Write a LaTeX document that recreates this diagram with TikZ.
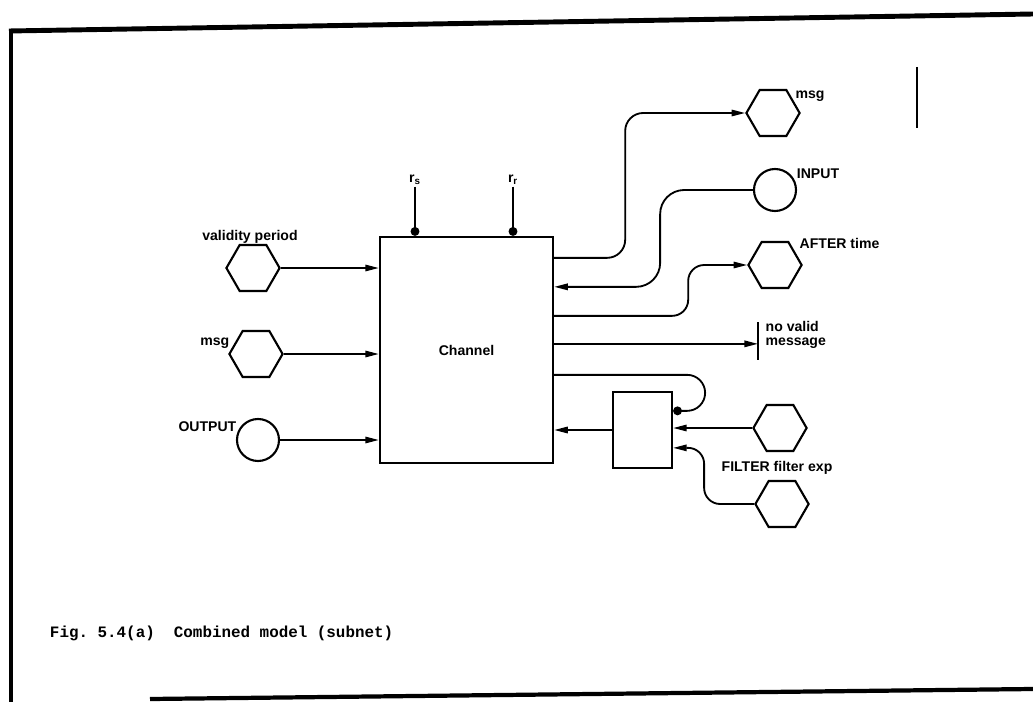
\documentclass[tikz,border=0pt]{standalone}
\usepackage{fontspec}
\setmainfont{Liberation Sans}
\setmonofont{Liberation Mono}
\usepackage{tikz}
\usetikzlibrary{arrows.meta, positioning, shapes.geometric, calc}
\tikzset{
  lbl/.style={font=\fontsize{10}{10.5}\selectfont\bfseries, inner sep=1pt},
  hexplace/.style={draw, regular polygon, regular polygon sides=6, minimum size=1.33cm,
                   inner sep=0pt, line width=1.5pt},
  circplace/.style={draw, circle, minimum size=1.05cm, inner sep=0pt, line width=1.5pt},
  blockbox/.style={draw, rectangle, line width=1.6pt, inner sep=0pt},
  flowarrow/.style={-{Triangle[length=3.4mm, width=1.6mm]}, line width=1.3pt},
  dotarrow/.style={-{Circle[length=2.2mm]}, line width=1.3pt},
  barline/.style={line width=1.6pt},
  frameline/.style={line width=3.5pt}
}

\begin{document}
\begin{tikzpicture}[x=0.025cm, y=-0.025cm]
\useasboundingbox (0,0) rectangle (1033,702);

% --- Frame ---
\draw[frameline] (9,31) -- (1033,14);
\draw[frameline, line width=3pt] (11,30) -- (11,702);
\draw[frameline, line width=3pt] (150,699) -- (1033,689);
\draw[line width=1pt] (917,67) -- (917,128);

% --- Channel ---
\node[blockbox, minimum width=4.325cm, minimum height=5.65cm, lbl] (chan) at (466.5,350) {Channel};

% --- r_s, r_r (top) ---
\node[lbl] (rs) at (415,180) {r\textsubscript{s}};
\node[lbl] (rr) at (513,180) {r\textsubscript{r}};
\draw[dotarrow] (rs.south) -- (rs.south |- chan.north);
\draw[dotarrow] (rr.south) -- (rr.south |- chan.north);

% --- Left inputs ---
\node[hexplace] (vp) at (253,268) {};
\node[hexplace] (min) at (256,354) {};
\node[circplace] (outp) at (258,440) {};
\node[lbl] (vplbl) at (250,237) {validity period};
\node[lbl, anchor=east] (minlbl) at (231,343) {msg};
\node[lbl, anchor=east] (outplbl) at (238,427) {OUTPUT};
\draw[flowarrow] (vp.east) -- (vp.east -| chan.west);
\draw[flowarrow] (min.east) -- (min.east -| chan.west);
\draw[flowarrow] (outp.east) -- (outp.east -| chan.west);

% --- Right side places ---
\node[hexplace] (mout) at (773,113) {};
\node[circplace] (inp) at (775,190) {};
\node[hexplace] (aft) at (775,265) {};
\node[lbl] (moutlbl) at (810,96) {msg};
\node[lbl] (inplbl) at (818,174) {INPUT};
\node[lbl, anchor=west] (aftlbl) at (798,243) {AFTER time};

% --- Ports on the right edge of Channel ---
\path (chan.north east) ++(0,22) coordinate (o1) ++(0,29) coordinate (i1)
      ++(0,29) coordinate (o2) ++(0,28) coordinate (o3) ++(0,31) coordinate (o4);

\draw[flowarrow, rounded corners=0.45cm] (o1) -| ($(mout.west)+(-120,0)$) -- (mout.west);
\draw[flowarrow, rounded corners=0.6cm] (inp.west) -| ($(i1)+(106,0)$) -- (i1);
\draw[flowarrow, rounded corners=0.4cm] (o2) -| ($(aft.west)+(-59,0)$) -- (aft.west);

% --- no valid message ---
\coordinate (nvtop) at (758,322);
\coordinate (nvbot) at (758,360);
\draw[barline] (nvtop) -- (nvbot);
\draw[flowarrow] (o3) -- (o3 -| nvtop);
\node[lbl, anchor=west, align=left] (nvlbl) at (764,335) {no valid\\message};

% --- FILTER block ---
\node[blockbox, minimum width=1.475cm, minimum height=1.9cm] (filt) at (642.5,430) {};
\node[hexplace] (fa) at (780,428) {};
\node[hexplace] (fb) at (782,504) {};
\node[lbl] (filtlbl) at (777,468) {FILTER filter exp};

\draw[dotarrow, rounded corners=0.45cm] (o4) -| ($(filt.north east)+(32,20)$) -- ($(filt.north east)+(0,20)$);
\draw[flowarrow] (filt.west) -- (filt.west -| chan.east);
\draw[flowarrow] (fa.west) -- (fa.west -| filt.east);
\draw[flowarrow, rounded corners=0.4cm] (fb.west) -| ($(filt.north east)+(31,57)$) -- ($(filt.north east)+(0,57)$);

% --- Caption ---
\node[font=\ttfamily\bfseries\fontsize{11.3}{13}\selectfont, anchor=west] (cap) at (45,633)
  {Fig. 5.4(a)\ \ Combined model (subnet)};

\end{tikzpicture}
\end{document}
